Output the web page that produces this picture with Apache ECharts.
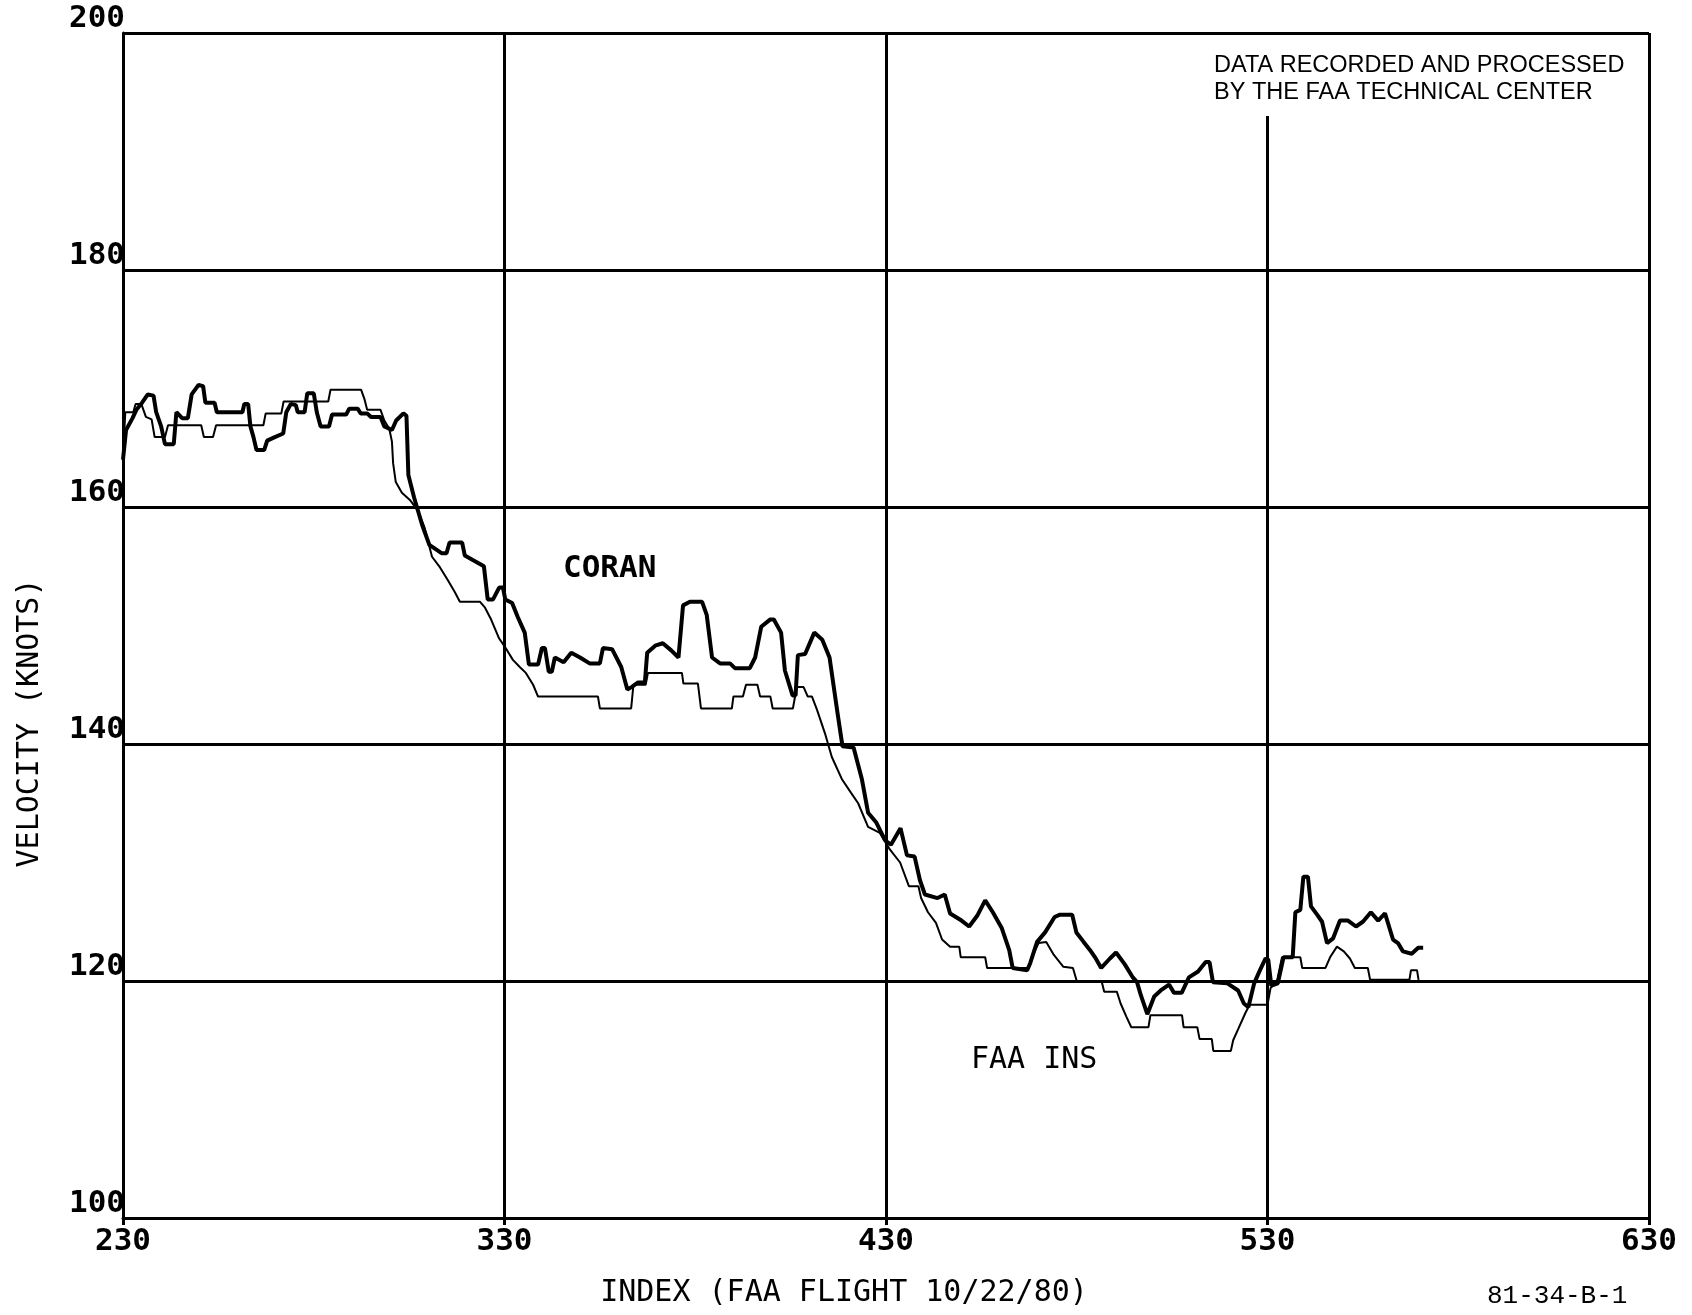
<!DOCTYPE html>
<html>
<head>
<meta charset="utf-8">
<title>Velocity vs Index</title>
<script src="https://cdn.jsdelivr.net/npm/echarts@6/dist/echarts.min.js"></script>
<style>
  html, body { margin: 0; padding: 0; background: #ffffff; }
  #chart { width: 1692px; height: 1315px; }
</style>
</head>
<body>
<div id="chart"></div>
<script>
// ---- Data (index, velocity in knots) ----
const xTicks = [230, 330, 430, 530, 630];
const yTicks = [100, 120, 140, 160, 180, 200];
const gridX = [330, 430, 530, 630];

const coranData = [
  [230, 164.0], [230.8, 166.5], [232.5, 167.5], [233.5, 168.2], [235, 168.8],
  [236.5, 169.5], [238, 169.4], [238.7, 168], [240, 166.8], [241, 165.3],
  [243.3, 165.3], [244, 168], [245.5, 167.5], [247, 167.5], [248, 169.5],
  [249.8, 170.3], [251, 170.2], [251.6, 168.8], [254, 168.8], [254.6, 168],
  [261.3, 168], [261.8, 168.7], [262.8, 168.7], [263.4, 166.8], [264.2, 165.9],
  [265, 164.8], [267, 164.8], [267.8, 165.6], [269.8, 165.9], [272, 166.2],
  [272.8, 168], [274, 168.7], [275.3, 168.6], [275.8, 168], [277.6, 168],
  [278.3, 169.6], [280, 169.6], [280.8, 168], [281.8, 166.8], [284, 166.8],
  [284.8, 167.8], [288.5, 167.8], [289.3, 168.3], [291.5, 168.3], [292.3, 167.9],
  [294, 167.9], [295, 167.6], [297.5, 167.6], [298.5, 166.8], [300.5, 166.5],
  [301.6, 167.3], [303.5, 167.9], [304.3, 167.7], [304.8, 162.7], [306.3, 160.8],
  [308.4, 158.5], [310.3, 156.8], [313.5, 156.1], [314.8, 156.1], [315.6, 157.0],
  [318.9, 157.0], [319.6, 155.9], [321.8, 155.5], [324.6, 155.0], [325.6, 152.2],
  [327, 152.2], [328.6, 153.2], [329.6, 153.2], [330.2, 152.2], [332, 151.9],
  [333.5, 150.7], [335.3, 149.4], [336.4, 146.7], [338.8, 146.7], [339.8, 148.1],
  [340.6, 148.1], [341.6, 146.1], [342.4, 146.1], [343.2, 147.3], [345.5, 146.9],
  [347.5, 147.7], [349.8, 147.3], [352.3, 146.8], [355, 146.8], [355.8, 148.1],
  [358.2, 148.0], [360.6, 146.5], [362.2, 144.6], [363.3, 144.8], [365, 145.2],
  [366.8, 145.2], [367.4, 147.7], [369.5, 148.3], [371.5, 148.5], [373.7, 147.9],
  [375.6, 147.3], [376.8, 151.7], [378.6, 152.0], [381.8, 152.0], [383.0, 150.9],
  [384.4, 147.3], [386.5, 146.8], [389.1, 146.8], [390.4, 146.4], [394.3, 146.4],
  [395.7, 147.3], [397.3, 149.9], [399.6, 150.5], [400.6, 150.5], [402.5, 149.4],
  [403.5, 146.2], [405.5, 144.1], [406.3, 144.1], [406.9, 147.5], [408.8, 147.6],
  [411.2, 149.4], [413.3, 148.8], [415.2, 147.3], [417.3, 142.6], [418.6, 139.8],
  [421.5, 139.7], [423.7, 137.0], [425.3, 134.2], [427.4, 133.4], [429.7, 131.9],
  [431.3, 131.5], [433.8, 132.9], [435.5, 130.6], [437.5, 130.5], [438.9, 128.5],
  [440.2, 127.3], [443.5, 127.0], [445.4, 127.3], [446.8, 125.7], [449.8, 125.1],
  [451.8, 124.6], [453.9, 125.5], [456, 126.8], [458, 125.8], [460.3, 124.5],
  [462.3, 122.6], [463.2, 121.1], [467, 120.9], [467.8, 121.5], [469.6, 123.3],
  [471.7, 124.1], [474.2, 125.4], [475.6, 125.6], [478.8, 125.6], [479.9, 124.1],
  [481.8, 123.3], [483.5, 122.6], [484.8, 122.0], [486.4, 121.1], [488.7, 121.9],
  [490.3, 122.4], [492.6, 121.4], [494.7, 120.3], [495.8, 119.9], [496.8, 118.8],
  [498.5, 117.2], [500.3, 118.7], [502, 119.2], [504.2, 119.7], [505.5, 119.0],
  [507.5, 119.0], [509.4, 120.3], [511.8, 120.8], [513.8, 121.6], [514.8, 121.6],
  [515.7, 119.9], [519.5, 119.8], [522.3, 119.2], [523.8, 118.1], [525.0, 117.8],
  [526.5, 119.8], [528, 120.9], [529.5, 121.9], [530.2, 121.8], [531, 119.6],
  [532.7, 119.8], [534.2, 122.0], [536.6, 122.0], [537.3, 125.8], [538.6, 126.0],
  [539.4, 128.8], [540.6, 128.8], [541.4, 126.3], [543.0, 125.6], [544.3, 125.0],
  [545.6, 123.2], [547.2, 123.6], [549.0, 125.1], [551.1, 125.1], [553.2, 124.6],
  [555.0, 125.0], [557.1, 125.8], [559.0, 125.1], [560.8, 125.7], [562.9, 123.5],
  [564.2, 123.2], [565.5, 122.5], [567.8, 122.3], [569.5, 122.8], [570.8, 122.8]
];

const faaInsData = [
  [230, 164.2], [230.6, 168.0], [232.7, 168.0], [233.3, 168.7], [234.8, 168.7],
  [236, 167.6], [237.5, 167.4], [238.3, 165.9], [241, 165.9], [241.8, 166.9],
  [250.5, 166.9], [251.2, 165.9], [253.6, 165.9], [254.4, 166.9], [266.8, 166.9],
  [267.4, 167.9], [271.5, 167.9], [272.1, 168.9], [283.8, 168.9], [284.4, 169.9],
  [292.4, 169.9], [293.3, 169.1], [294, 168.2], [297.5, 168.2], [298.5, 167.3],
  [299.8, 166.6], [300.5, 165.5], [300.8, 163.7], [301.5, 162.1], [303.1, 161.2],
  [305.2, 160.6], [307.3, 159.7], [309, 158.3], [311, 155.8], [313.1, 154.9],
  [315.2, 153.8], [317, 152.8], [318.3, 152.0], [323.6, 152.0], [324.9, 151.5],
  [326.5, 150.5], [328.6, 148.9], [330.1, 148.2], [332.2, 147.1], [334, 146.5],
  [335.6, 146.0], [337.5, 145.0], [338.8, 144.0], [354.5, 144.0], [355, 143.0],
  [363.2, 143.0], [363.8, 145.0], [367, 145.0], [367.6, 146.0], [376.5, 146.0],
  [376.9, 145.1], [380.7, 145.1], [381.5, 143.0], [389.6, 143.0], [390, 144.0],
  [392.5, 144.0], [393.3, 145.0], [396.3, 145.0], [397, 144.0], [399.7, 144.0],
  [400.3, 143.0], [405.6, 143.0], [406.6, 144.8], [408.4, 144.8], [409.5, 144.0],
  [410.6, 144.0], [411.9, 142.9], [414, 140.9], [415.8, 138.9], [418.5, 137.0],
  [420.8, 135.9], [422.7, 135.0], [425.3, 133.0], [428.4, 132.5], [431, 131.1],
  [433.7, 130.0], [436, 128.0], [438.5, 128.0], [439.2, 127.0], [441, 125.8],
  [443.1, 124.9], [444.7, 123.5], [446.8, 122.9], [449.2, 122.9], [449.6, 122.0],
  [456, 122.0], [456.5, 121.1], [467.3, 121.1], [468.5, 122.2], [470, 123.2],
  [472, 123.3], [474, 122.2], [476.5, 121.2], [479, 121.1], [480, 120.0],
  [486.5, 120.0], [487.2, 119.1], [490.5, 119.1], [491.5, 118.1], [493, 117.0],
  [494.3, 116.1], [498.8, 116.1], [499.3, 117.1], [507.6, 117.1], [508, 116.1],
  [511.6, 116.1], [512.2, 115.1], [515.4, 115.1], [515.8, 114.1], [520.4, 114.1],
  [521, 115.0], [522.4, 116.0], [524.2, 117.3], [525.3, 118.0], [530, 118.0],
  [530.8, 119.4], [532.5, 120.0], [533.8, 122.0], [538.6, 122.0], [539.1, 121.1],
  [545.2, 121.1], [546.4, 122.0], [548.2, 122.9], [550, 122.5], [551.6, 121.9],
  [552.9, 121.1], [556.3, 121.1], [556.9, 120.1], [567.2, 120.1], [567.6, 120.9],
  [569.2, 120.9], [569.6, 120.1]
];

const gridTopCut = 193; // vertical 530 line stops below the note box

// ---- Chart ----
const chart = echarts.init(document.getElementById('chart'), null, { renderer: 'canvas' });
const mono = "'DejaVu Sans Mono', 'Liberation Mono', monospace";

const gridLines = gridX.map(x => [
  { coord: [x, yTicks[0]] },
  { coord: [x, x === 530 ? gridTopCut : yTicks[yTicks.length - 1]] }
]);

chart.setOption({
  animation: false,
  backgroundColor: '#ffffff',
  grid: { left: 123, right: 43, top: 33, bottom: 97 },
  xAxis: {
    type: 'value',
    min: xTicks[0],
    max: xTicks[xTicks.length - 1],
    axisLine: { show: true, lineStyle: { color: '#000', width: 3 } },
    axisTick: { show: true, length: 7, lineStyle: { color: '#000', width: 3 }, customValues: xTicks },
    axisLabel: {
      customValues: xTicks,
      color: '#000',
      fontFamily: mono,
      fontWeight: 'bold',
      fontSize: 31,
      margin: 8
    },
    splitLine: { show: false }
  },
  yAxis: {
    type: 'value',
    min: yTicks[0],
    max: yTicks[yTicks.length - 1],
    interval: 20,
    axisLine: { show: true, lineStyle: { color: '#000', width: 3 } },
    axisTick: { show: false },
    axisLabel: {
      color: '#000',
      fontFamily: mono,
      fontWeight: 'bold',
      fontSize: 31,
      margin: -2,
      verticalAlign: 'bottom',
      lineHeight: 28
    },
    splitLine: { show: true, lineStyle: { color: '#000', width: 3 } }
  },
  series: [
    {
      name: 'FAA INS',
      type: 'line',
      data: faaInsData,
      showSymbol: false,
      symbol: 'none',
      lineStyle: { color: '#000', width: 2 },
      z: 3,
      markLine: {
        silent: true,
        symbol: ['none', 'none'],
        label: { show: false },
        lineStyle: { color: '#000', width: 3, type: 'solid' },
        data: gridLines
      }
    },
    {
      name: 'CORAN',
      type: 'line',
      data: coranData,
      showSymbol: false,
      symbol: 'none',
      lineStyle: { color: '#000', width: 4 },
      z: 4
    }
  ],
  graphic: [
    {
      type: 'text', x: 1214, y: 52,
      style: {
        text: 'DATA RECORDED AND PROCESSED\nBY THE FAA TECHNICAL CENTER',
        font: "23.5px 'Liberation Sans', Arial, sans-serif",
        fill: '#000', lineHeight: 27
      }
    },
    {
      type: 'text', x: 563, y: 553,
      style: { text: 'CORAN', font: "bold 31px " + mono, fill: '#000' }
    },
    {
      type: 'text', x: 971, y: 1045,
      style: { text: 'FAA INS', font: "30px " + mono, fill: '#000' }
    },
    {
      type: 'text', x: 844, y: 1293,
      style: {
        text: 'INDEX (FAA FLIGHT 10/22/80)', font: "30px " + mono, fill: '#000',
        align: 'center', verticalAlign: 'middle'
      }
    },
    {
      type: 'text', x: 30, y: 723, rotation: Math.PI / 2,
      style: {
        text: 'VELOCITY (KNOTS)', font: "30px " + mono, fill: '#000',
        align: 'center', verticalAlign: 'middle'
      }
    },
    {
      type: 'text', x: 1487, y: 1283,
      style: { text: '81-34-B-1', font: "26px 'Liberation Mono', 'Courier New', monospace", fill: '#000' }
    }
  ]
});
</script>
</body>
</html>
